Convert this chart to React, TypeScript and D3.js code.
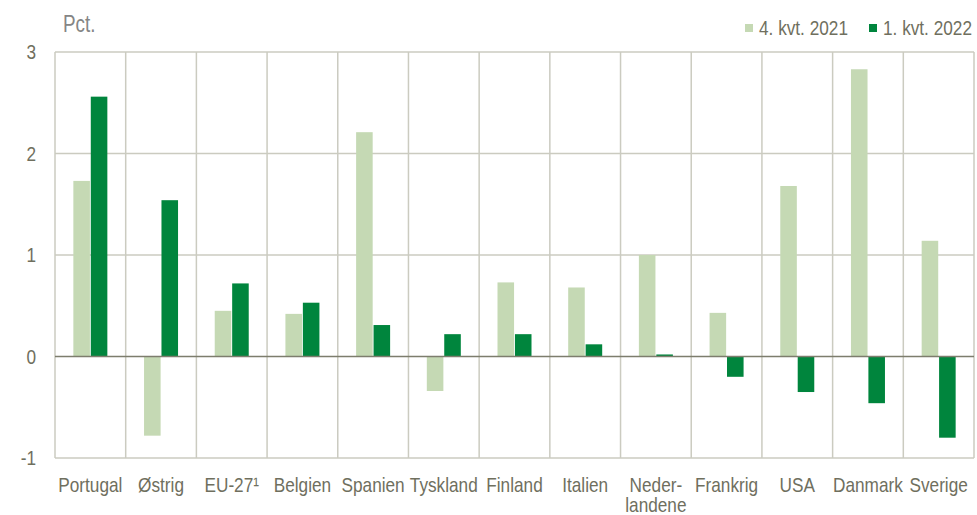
import { useEffect, useRef } from 'react'
import * as d3 from 'd3'

const categories = [
  'Portugal', 'Østrig', 'EU-27¹', 'Belgien', 'Spanien', 'Tyskland', 'Finland',
  'Italien', 'Neder-|landene', 'Frankrig', 'USA', 'Danmark', 'Sverige',
]
const q4_2021 = [1.73, -0.78, 0.45, 0.42, 2.21, -0.34, 0.73, 0.68, 1.0, 0.43, 1.68, 2.83, 1.14]
const q1_2022 = [2.56, 1.54, 0.72, 0.53, 0.31, 0.22, 0.22, 0.12, 0.02, -0.2, -0.35, -0.46, -0.8]
const seriesNames = ['4. kvt. 2021', '1. kvt. 2022']
const yTicks = [-1, 0, 1, 2, 3]

const colors = ['#c5d9b4', '#00853d']
const textColor = '#6f6f5e'
const gridColor = '#cbcbc0'
const zeroColor = '#7d7d6d'

// the original uses a narrow face; squeeze Liberation Sans horizontally
const NARROW = 0.82
const place = (x: number, y: number) => `translate(${x},${y}) scale(${NARROW},1)`

const App = () => {
  const svgRef = useRef<SVGSVGElement | null>(null)

  useEffect(() => {
    const svg = d3.select(svgRef.current)
    svg.selectAll('*').remove()

    const width = 977
    const height = 515
    const margin = { top: 52, right: 3, bottom: 57, left: 55 }
    const innerWidth = width - margin.left - margin.right
    const innerHeight = height - margin.top - margin.bottom
    const font = '"Liberation Sans", Arial, sans-serif'
    const fs = 21

    const g = svg.append('g').attr('transform', `translate(${margin.left},${margin.top})`)

    const x = d3.scaleBand<string>().domain(categories).range([0, innerWidth])
    const xInner = d3
      .scaleBand<number>()
      .domain([0, 1])
      .range([x.bandwidth() / 2 - 17, x.bandwidth() / 2 + 17])
      .paddingInner(0.05)
    const y = d3.scaleLinear().domain([-1, 3]).range([innerHeight, 0])

    // horizontal grid
    g.selectAll('line.h')
      .data(yTicks.filter((t) => t !== 0))
      .join('line')
      .attr('x1', 0)
      .attr('x2', innerWidth)
      .attr('y1', (d) => y(d))
      .attr('y2', (d) => y(d))
      .attr('stroke', gridColor)
      .attr('stroke-width', 1.5)

    // vertical dividers
    const edges = categories.map((c) => x(c)!).concat([innerWidth])
    g.selectAll('line.v')
      .data(edges)
      .join('line')
      .attr('x1', (d) => d)
      .attr('x2', (d) => d)
      .attr('y1', 0)
      .attr('y2', innerHeight)
      .attr('stroke', gridColor)
      .attr('stroke-width', 1.5)

    const series = [q4_2021, q1_2022]
    series.forEach((vals, si) => {
      g.append('g')
        .selectAll('rect')
        .data(vals)
        .join('rect')
        .attr('x', (_, i) => x(categories[i])! + xInner(si)!)
        .attr('width', xInner.bandwidth())
        .attr('y', (d) => y(Math.max(0, d)))
        .attr('height', (d) => Math.abs(y(d) - y(0)))
        .attr('fill', colors[si])
    })

    // zero line
    g.append('line')
      .attr('x1', 0)
      .attr('x2', innerWidth)
      .attr('y1', y(0))
      .attr('y2', y(0))
      .attr('stroke', zeroColor)
      .attr('stroke-width', 1.5)

    // y tick labels
    g.selectAll('text.yt')
      .data(yTicks)
      .join('text')
      .attr('transform', (d) => place(-19, y(d)))
      .attr('dy', '0.35em')
      .attr('text-anchor', 'end')
      .attr('font-family', font)
      .attr('font-size', fs)
      .attr('fill', textColor)
      .text((d) => String(d))

    // x labels
    const xl = g
      .selectAll('text.xl')
      .data(categories)
      .join('text')
      .attr('transform', (d) => place(x(d)! + x.bandwidth() / 2, innerHeight + 34))
      .attr('text-anchor', 'middle')
      .attr('font-family', font)
      .attr('font-size', fs)
      .attr('fill', textColor)
    xl.each(function (d) {
      const parts = d.split('|')
      const t = d3.select(this)
      parts.forEach((p, i) => {
        t.append('tspan')
          .attr('x', 0)
          .attr('dy', i === 0 ? 0 : 20)
          .text(p)
      })
    })

    // unit label
    svg.append('text')
      .attr('transform', place(63, 32))
      .attr('font-family', font)
      .attr('font-size', 23)
      .attr('fill', '#858585')
      .text('Pct.')

    // legend
    const legendX = [745, 869]
    seriesNames.forEach((name, i) => {
      svg.append('rect')
        .attr('x', legendX[i])
        .attr('y', 24)
        .attr('width', 8)
        .attr('height', 8)
        .attr('fill', colors[i])
      svg.append('text')
        .attr('transform', place(legendX[i] + 14, 35))
        .attr('font-family', font)
        .attr('font-size', fs)
        .attr('fill', textColor)
        .text(name)
    })
  }, [])

  return (
    <svg
      ref={svgRef}
      width={977}
      height={515}
      style={{ position: 'absolute', left: 0, top: 0, background: '#fff' }}
    />
  )
}

export default App
